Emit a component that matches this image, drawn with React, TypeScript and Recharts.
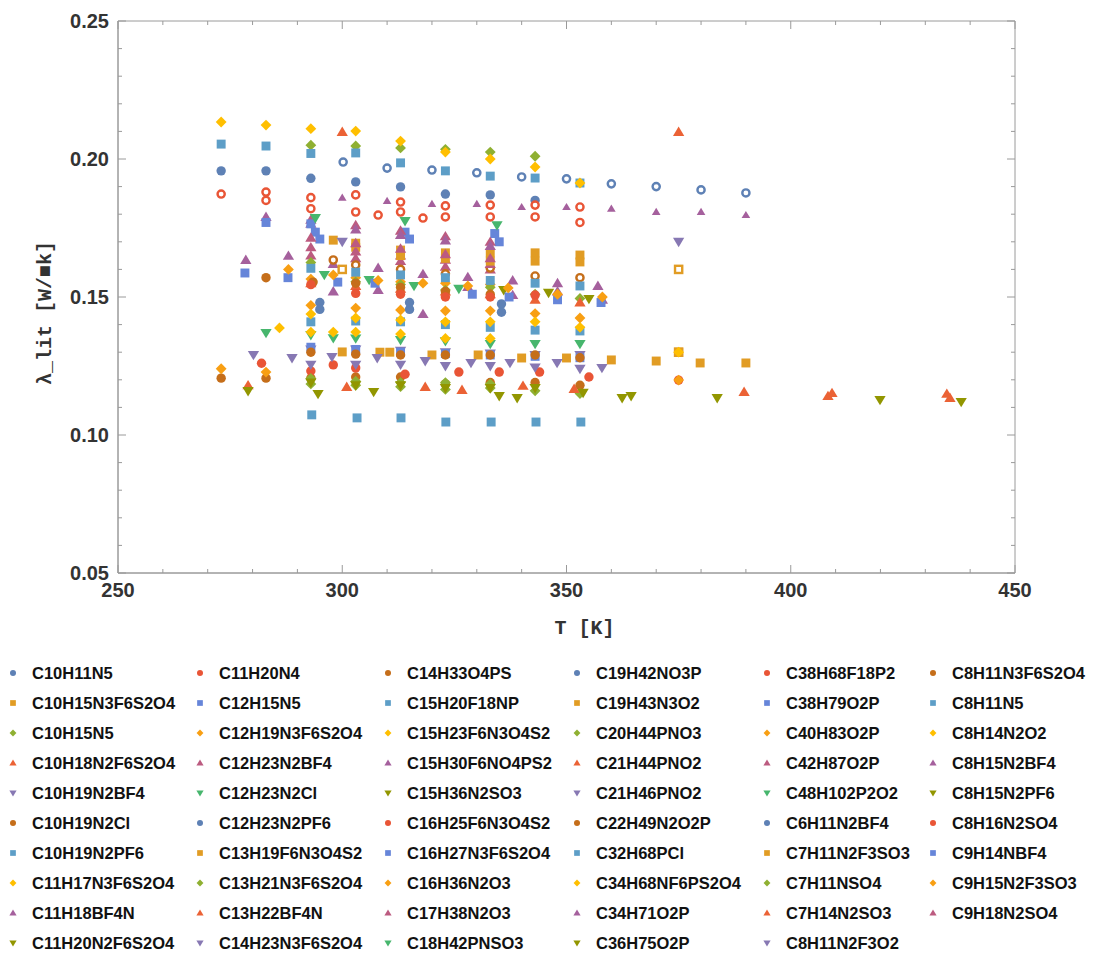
import React from "react";
import { ScatterChart, Scatter, XAxis, YAxis, ReferenceArea } from "recharts";

type P = [number, number];

// [T (K), lambda_lit (W/mK)], one list per compound
const C10H11N5: P[] = [[273, 0.1957], [283, 0.1957], [293, 0.193], [303, 0.1917], [313, 0.1899], [323, 0.1873], [333, 0.187], [343, 0.185]];
const C10H15N3F6S2O4: P[] = [[298, 0.1706], [303, 0.168], [313, 0.167], [323, 0.166], [333, 0.166], [343, 0.166], [353, 0.1652]];
const C10H15N5: P[] = [[293, 0.205], [303, 0.2047], [313, 0.204], [323, 0.2035], [333, 0.2025], [343, 0.201]];
const C10H18N2F6S2O4: P[] = [[300, 0.2098], [375, 0.2098]];
const C10H19N2BF4: P[] = [[300, 0.170], [375, 0.170]];
const C10H19N2Cl: P[] = [[273, 0.1206], [283, 0.1206], [293, 0.1206], [303, 0.121], [313, 0.121], [323, 0.1185], [333, 0.119], [343, 0.119], [353, 0.118]];
const C10H19N2PF6: P[] = [[273, 0.2054], [283, 0.2047], [293, 0.202], [303, 0.2022], [313, 0.1986], [323, 0.1957], [333, 0.1938], [343, 0.1931], [353, 0.1913]];
const C11H17N3F6S2O4: P[] = [[273, 0.2134], [283, 0.2123], [293, 0.211], [303, 0.2101], [313, 0.2065], [323, 0.2025], [333, 0.200], [343, 0.1971], [353, 0.1913]];
const C11H18BF4N: P[] = [[278.5, 0.1634], [288, 0.1649], [298, 0.162], [308, 0.1605], [318, 0.1583], [328, 0.1572], [338, 0.156], [348, 0.155], [357, 0.154]];
const C11H20N2F6S2O4: P[] = [[336, 0.1525], [346, 0.1515], [355, 0.1493]];
const C11H20N4: P[] = [[282, 0.126], [293, 0.1232], [298, 0.1254], [303, 0.1243], [314, 0.122], [326, 0.1228], [335, 0.1228], [344, 0.1228], [355, 0.121], [375, 0.1199]];
const C12H15N5: P[] = [[294, 0.1735], [295, 0.171], [314, 0.1735], [315, 0.171], [334, 0.173], [335, 0.170]];
const C12H19N3F6S2O4: P[] = [[293, 0.147], [303, 0.146], [313, 0.1453], [323, 0.145], [333, 0.145], [343, 0.144], [353, 0.1424]];
const C12H23N2BF4: P[] = [[293, 0.165], [303, 0.164], [313, 0.163], [323, 0.161], [333, 0.160]];
const C12H23N2Cl: P[] = [[283, 0.137], [293, 0.1362], [298, 0.1351], [303, 0.135], [313, 0.1344], [323, 0.134], [333, 0.133], [343, 0.133], [353, 0.133]];
const C12H23N2PF6: P[] = [[295, 0.148], [315, 0.148], [335.5, 0.1475]];
const C13H19F6N3O4S2: P[] = [[300, 0.160], [375, 0.160], [375, 0.130]];
const C13H21N3F6S2O4: P[] = [[293, 0.1185], [303, 0.118], [313, 0.1175], [323, 0.1165], [333, 0.117], [343, 0.116], [353, 0.115]];
const C13H22BF4N: P[] = [[279, 0.118], [301, 0.1174], [318.5, 0.1174], [326.7, 0.1163], [340.3, 0.1178], [351.7, 0.1167]];
const C14H23N3F6S2O4: P[] = [[293, 0.131], [303, 0.131], [313, 0.1305], [323, 0.130], [333, 0.1295], [343, 0.129], [353, 0.129]];
const C14H33O4PS: P[] = [[298, 0.1634], [303, 0.1616], [313, 0.160], [323, 0.1584], [333, 0.1605], [343, 0.1576], [353, 0.157]];
const C15H20F18NP: P[] = [[293, 0.141], [303, 0.1413], [313, 0.141], [323, 0.140], [333, 0.139], [343, 0.138], [353, 0.1377]];
const C15H23F6N3O4S2: P[] = [[286, 0.1388], [293, 0.1373], [298, 0.1373], [303, 0.1373], [313, 0.1366], [323, 0.135], [333, 0.135]];
const C15H30F6NO4PS2: P[] = [[298, 0.152], [308, 0.1525], [318, 0.1438], [328, 0.1536], [338, 0.1507], [348, 0.152], [358, 0.149]];
const C15H36N2SO3: P[] = [[279, 0.1159], [294.6, 0.1149], [307, 0.1156], [335, 0.1141], [339, 0.1134]];
const C16H25F6N3O4S2: P[] = [[273, 0.1873], [283, 0.188], [293, 0.186], [303, 0.187], [313, 0.1844], [323, 0.183], [333, 0.1833], [343, 0.1833], [353, 0.1826]];
const C16H27N3F6S2O4: P[] = [[293, 0.1318], [303, 0.131], [313, 0.130], [323, 0.1295], [333, 0.129], [343, 0.1285], [353, 0.128]];
const C16H36N2O3: P[] = [[293, 0.1565], [303, 0.157], [313, 0.1555], [323, 0.155], [333, 0.1545]];
const C17H38N2O3: P[] = [[293, 0.178], [303, 0.176], [313, 0.174], [323, 0.172], [333, 0.170]];
const C18H42PNSO3: P[] = [[296, 0.158], [306, 0.1562], [316, 0.154], [326, 0.153]];
const C19H42NO3P: P[] = [[295, 0.1455], [315, 0.1455], [335.5, 0.1445]];
const C19H43N3O2: P[] = [[300, 0.1301], [308.4, 0.130], [310.6, 0.130], [320, 0.129], [330.3, 0.129], [340, 0.1279], [350, 0.1279], [360, 0.1272], [370, 0.1268], [375, 0.130], [379.8, 0.1261], [390, 0.1261]];
const C20H44PNO3: P[] = [[293, 0.1625], [303, 0.1555], [313, 0.1545], [323, 0.1525], [333, 0.1535], [343, 0.151], [353, 0.1495]];
const C21H44PNO2: P[] = [[293, 0.155], [303, 0.154], [313, 0.153], [323, 0.152], [333, 0.151], [343, 0.149], [353, 0.148]];
const C21H46PNO2: P[] = [[280.2, 0.129], [288.8, 0.1279], [297.7, 0.1283], [307.8, 0.1279], [318.5, 0.1268], [328.7, 0.1261], [337.4, 0.1261], [347.9, 0.1261], [357.9, 0.1243]];
const C22H49N2O2P: P[] = [[283, 0.157], [293.5, 0.1554], [303, 0.155], [313, 0.1535], [323, 0.152], [333, 0.151]];
const C32H68PCl: P[] = [[293.2, 0.1073], [303.3, 0.1062], [313.1, 0.1062], [323.1, 0.1047], [333.2, 0.1047], [343.2, 0.1047], [353.2, 0.1047]];
const C34H68NF6PS2O4: P[] = [[375, 0.130]];
const C34H71O2P: P[] = [[283, 0.179], [293, 0.1765], [303, 0.1745], [313, 0.1725], [323, 0.1705], [333, 0.1685]];
const C36H75O2P: P[] = [[362.4, 0.1134], [364.4, 0.1141], [383.6, 0.1134], [419.9, 0.1127], [438, 0.112]];
const C38H68F18P2: P[] = [[293, 0.1545], [303, 0.1513], [313, 0.151], [323, 0.150], [333, 0.150], [343, 0.1507]];
const C38H79O2P: P[] = [[283, 0.177], [293, 0.1765]];
const C40H83O2P: P[] = [[273, 0.124], [283, 0.1228], [375, 0.1199]];
const C42H87O2P: P[] = [[293, 0.168], [303, 0.1665], [313, 0.165], [323, 0.1635], [333, 0.162]];
const C48H102P2O2: P[] = [[294, 0.1786], [314, 0.1775], [334.5, 0.176]];
const C6H11N2BF4: P[] = [[300.2, 0.1989], [310, 0.1967], [320, 0.196], [330, 0.195], [340, 0.1935], [350, 0.1928], [360, 0.191], [370, 0.190], [380, 0.1888], [390, 0.1877]];
const C7H11N2F3SO3: P[] = [[303, 0.1695], [313, 0.165], [323, 0.164], [333, 0.163], [343, 0.163], [353, 0.1627]];
const C7H11NSO4: P[] = [[293, 0.1205], [303, 0.1195], [313, 0.119], [323, 0.119], [333, 0.1185]];
const C7H14N2SO3: P[] = [[389.6, 0.1156], [408.3, 0.1141], [409.2, 0.1152], [434.8, 0.1149], [435.5, 0.1134]];
const C8H11N2F3O2: P[] = [[293, 0.1255], [303, 0.1255], [313, 0.1255], [323, 0.125], [333, 0.125], [343, 0.1245], [353, 0.124]];
const C8H11N3F6S2O4: P[] = [[293, 0.130], [303, 0.1293], [313, 0.129], [323, 0.129], [333, 0.129], [343, 0.129], [353, 0.128]];
const C8H11N5: P[] = [[293, 0.1604], [303, 0.159], [313, 0.158], [323, 0.157], [333, 0.156], [343, 0.155], [353, 0.154]];
const C8H14N2O2: P[] = [[293, 0.1438], [303, 0.1424], [313, 0.1417], [323, 0.141], [333, 0.141], [343, 0.141], [353, 0.139]];
const C8H15N2BF4: P[] = [[300, 0.186], [310, 0.1848], [320, 0.1837], [330, 0.1837], [340, 0.1826], [350, 0.1826], [360, 0.182], [370, 0.1808], [380, 0.1808], [390, 0.1797]];
const C8H15N2PF6: P[] = [[293, 0.119], [303, 0.118], [313, 0.118], [323, 0.117], [333, 0.117], [343, 0.117], [353.7, 0.1153]];
const C8H16N2SO4: P[] = [[283, 0.185], [293, 0.182], [303, 0.1808], [308, 0.1797], [313, 0.1808], [318, 0.1786], [323, 0.179], [333, 0.179], [343, 0.179], [353, 0.177]];
const C9H14NBF4: P[] = [[278.3, 0.1587], [287.9, 0.157], [299, 0.1554], [307.3, 0.155], [329, 0.151], [337.2, 0.150], [348, 0.149], [357.7, 0.148]];
const C9H15N2F3SO3: P[] = [[288, 0.160], [298, 0.158], [308, 0.156], [318, 0.155], [328, 0.154], [337, 0.1533], [348, 0.151], [358, 0.150]];
const C9H18N2SO4: P[] = [[293, 0.1715], [303, 0.1695], [313, 0.1675], [323, 0.1655], [333, 0.164]];

const SERIES: [string, P[]][] = [
    ["C10H11N5", C10H11N5], ["C10H15N3F6S2O4", C10H15N3F6S2O4], ["C10H15N5", C10H15N5],
    ["C10H18N2F6S2O4", C10H18N2F6S2O4], ["C10H19N2BF4", C10H19N2BF4], ["C10H19N2Cl", C10H19N2Cl],
    ["C10H19N2PF6", C10H19N2PF6], ["C11H17N3F6S2O4", C11H17N3F6S2O4], ["C11H18BF4N", C11H18BF4N],
    ["C11H20N2F6S2O4", C11H20N2F6S2O4], ["C11H20N4", C11H20N4], ["C12H15N5", C12H15N5],
    ["C12H19N3F6S2O4", C12H19N3F6S2O4], ["C12H23N2BF4", C12H23N2BF4], ["C12H23N2Cl", C12H23N2Cl],
    ["C12H23N2PF6", C12H23N2PF6], ["C13H19F6N3O4S2", C13H19F6N3O4S2], ["C13H21N3F6S2O4", C13H21N3F6S2O4],
    ["C13H22BF4N", C13H22BF4N], ["C14H23N3F6S2O4", C14H23N3F6S2O4], ["C14H33O4PS", C14H33O4PS],
    ["C15H20F18NP", C15H20F18NP], ["C15H23F6N3O4S2", C15H23F6N3O4S2], ["C15H30F6NO4PS2", C15H30F6NO4PS2],
    ["C15H36N2SO3", C15H36N2SO3], ["C16H25F6N3O4S2", C16H25F6N3O4S2], ["C16H27N3F6S2O4", C16H27N3F6S2O4],
    ["C16H36N2O3", C16H36N2O3], ["C17H38N2O3", C17H38N2O3], ["C18H42PNSO3", C18H42PNSO3],
    ["C19H42NO3P", C19H42NO3P], ["C19H43N3O2", C19H43N3O2], ["C20H44PNO3", C20H44PNO3],
    ["C21H44PNO2", C21H44PNO2], ["C21H46PNO2", C21H46PNO2], ["C22H49N2O2P", C22H49N2O2P],
    ["C32H68PCl", C32H68PCl], ["C34H68NF6PS2O4", C34H68NF6PS2O4], ["C34H71O2P", C34H71O2P],
    ["C36H75O2P", C36H75O2P], ["C38H68F18P2", C38H68F18P2], ["C38H79O2P", C38H79O2P],
    ["C40H83O2P", C40H83O2P], ["C42H87O2P", C42H87O2P], ["C48H102P2O2", C48H102P2O2],
    ["C6H11N2BF4", C6H11N2BF4], ["C7H11N2F3SO3", C7H11N2F3SO3], ["C7H11NSO4", C7H11NSO4],
    ["C7H14N2SO3", C7H14N2SO3], ["C8H11N2F3O2", C8H11N2F3O2], ["C8H11N3F6S2O4", C8H11N3F6S2O4],
    ["C8H11N5", C8H11N5], ["C8H14N2O2", C8H14N2O2], ["C8H15N2BF4", C8H15N2BF4],
    ["C8H15N2PF6", C8H15N2PF6], ["C8H16N2SO4", C8H16N2SO4], ["C9H14NBF4", C9H14NBF4],
    ["C9H15N2F3SO3", C9H15N2F3SO3], ["C9H18N2SO4", C9H18N2SO4],
];

const X_TICKS = [250, 260, 270, 280, 290, 300, 310, 320, 330, 340, 350, 360, 370, 380, 390, 400, 410, 420, 430, 440, 450];
const Y_TICKS = [0.05, 0.06, 0.07, 0.08, 0.09, 0.1, 0.11, 0.12, 0.13, 0.14, 0.15, 0.16, 0.17, 0.18, 0.19, 0.2, 0.21, 0.22, 0.23, 0.24, 0.25];

// mathematica's default palette (cycle of 15) and marker cycle (5)
const COLORS = ["#5E81B5", "#E19C24", "#8FB032", "#EB6235", "#8778B3", "#C56E1A", "#5D9EC7", "#FFBF00",
    "#A5609D", "#929600", "#E95536", "#6685D9", "#F89F13", "#BC5B80", "#47B66D"];
const SHAPES = ["circle", "square", "diamond", "up", "down"];
const OPEN = ["C13H19F6N3O4S2", "C14H33O4PS", "C16H25F6N3O4S2", "C6H11N2BF4", "C8H16N2SO4"];
const SMALL = ["C8H15N2BF4"];

// chart box
const W = 1093;
const H = 650;
const M = { top: 21, right: 78, left: 0, bottom: 0 };
const Y_W = 118;
const X_H = 77;
const PLOT_W = W - M.left - M.right - Y_W;
const PLOT_H = H - M.top - M.bottom - X_H;

const FRAME = "#9a9a9a";
const tickFont = { fontFamily: "'Liberation Sans', Arial, sans-serif", fontWeight: 700, fontSize: 20, fill: "#333" };
const monoFont = { fontFamily: "'Liberation Mono', 'DejaVu Sans Mono', monospace", fontWeight: 700, fontSize: 20, fill: "#333" };

const Marker = ({ cx, cy, shape, color, r, open }: any) => {
    if (cx == null || cy == null) return null;
    const fill = open ? "#fff" : color;
    const stroke = open ? color : "none";
    const sw = open ? 2.4 : 0;
    if (shape === "circle") {
        return <circle cx={cx} cy={cy} r={open ? r - 1.1 : r} fill={fill} stroke={stroke} strokeWidth={sw} />;
    }
    if (shape === "square") {
        const h = open ? r - 1.1 : r * 0.95;
        return <rect x={cx - h} y={cy - h} width={h * 2} height={h * 2} fill={fill} stroke={stroke} strokeWidth={sw} />;
    }
    if (shape === "diamond") {
        const d = open ? r * 1.1 - 1.1 : r * 1.15;
        return <polygon points={`${cx},${cy - d} ${cx + d},${cy} ${cx},${cy + d} ${cx - d},${cy}`} fill={fill} stroke={stroke} strokeWidth={sw} />;
    }
    const s = shape === "up" ? 1 : -1;
    const pts = `${cx},${cy - s * r * 1.15} ${cx + r * 1.2},${cy + s * r * 0.85} ${cx - r * 1.2},${cy + s * r * 0.85}`;
    return <polygon points={pts} fill={fill} stroke={stroke} strokeWidth={sw} />;
};

// bottom ticks point inward; the same tick is mirrored on the top edge of the frame
const XTick = ({ x, y, payload }: any) => {
    const major = payload.value % 50 === 0;
    const len = major ? 8 : 4;
    const top = y - PLOT_H;
    return (
        <g>
            <line x1={x} x2={x} y1={y} y2={y - len} stroke={FRAME} />
            <line x1={x} x2={x} y1={top} y2={top + len} stroke={FRAME} />
            {major && (
                <text x={x} y={y + 24} textAnchor="middle" {...tickFont}>{payload.value}</text>
            )}
        </g>
    );
};

const YTick = ({ x, y, payload }: any) => {
    const major = Math.round(payload.value * 100) % 5 === 0;
    const len = major ? 8 : 4;
    const right = x + PLOT_W;
    return (
        <g>
            <line x1={x} x2={x + len} y1={y} y2={y} stroke={FRAME} />
            <line x1={right} x2={right - len} y1={y} y2={y} stroke={FRAME} />
            {major && (
                <text x={x - 9} y={y + 7} textAnchor="end" {...tickFont}>{payload.value.toFixed(2)}</text>
            )}
        </g>
    );
};

const LEGEND_COLS = [13, 200, 388, 577, 767, 933];

const LegendIcon = ({ i }: { i: number }) => (
    <svg width={12} height={12} style={{ position: "absolute", left: -6, top: -6 }}>
        <Marker cx={6} cy={6} shape={SHAPES[i % 5]} color={COLORS[i % 15]} r={3} open={false} />
    </svg>
);

const App = () => {
    return (
        <div style={{ position: "absolute", left: 0, top: 0, width: 1093, height: 954, background: "#fff" }}>
            <ScatterChart width={W} height={H} margin={M}>
                <XAxis
                    type="number"
                    dataKey="x"
                    domain={[250, 450]}
                    ticks={X_TICKS}
                    interval={0}
                    height={X_H}
                    tickSize={0}
                    tickMargin={0}
                    stroke={FRAME}
                    tick={<XTick />}
                    allowDataOverflow
                    label={{
                        content: ({ viewBox }: any) => (
                            <text x={viewBox.x + viewBox.width / 2 + 18} y={viewBox.y + 61} textAnchor="middle" {...monoFont}>T [K]</text>
                        ),
                    }}
                />
                <YAxis
                    type="number"
                    dataKey="y"
                    domain={[0.05, 0.25]}
                    ticks={Y_TICKS}
                    interval={0}
                    width={Y_W}
                    tickSize={0}
                    tickMargin={0}
                    stroke={FRAME}
                    tick={<YTick />}
                    allowDataOverflow
                    label={{
                        content: ({ viewBox }: any) => {
                            const cx = 45;
                            const cy = viewBox.y + viewBox.height / 2 + 16;
                            return (
                                <text x={cx} y={cy} transform={`rotate(-90 ${cx} ${cy})`} textAnchor="middle" dominantBaseline="central" {...monoFont}>
                                    λ_lit [W/■k]
                                </text>
                            );
                        },
                    }}
                />
                <ReferenceArea x1={250} x2={450} y1={0.05} y2={0.25} fill="none" stroke={FRAME} strokeWidth={1} ifOverflow="visible" />
                {SERIES.map(([name, pts], i) => {
                    const shape = SHAPES[i % 5];
                    const color = COLORS[i % 15];
                    const open = OPEN.includes(name);
                    const r = SMALL.includes(name) ? 3.6 : 4.7;
                    return (
                        <Scatter
                            key={name}
                            name={name}
                            data={pts.map(([x, y]) => ({ x, y }))}
                            fill={color}
                            isAnimationActive={false}
                            shape={(p: any) => <Marker cx={p.cx} cy={p.cy} shape={shape} color={color} r={r} open={open} />}
                        />
                    );
                })}
            </ScatterChart>
            {SERIES.map(([name], i) => {
                const col = Math.floor(i / 10);
                const row = i % 10;
                return (
                    <div key={name} style={{ position: "absolute", left: LEGEND_COLS[col], top: 673 + row * 30, height: 0 }}>
                        <LegendIcon i={i} />
                        <span
                            style={{
                                position: "absolute",
                                left: 19,
                                top: -11,
                                whiteSpace: "nowrap",
                                fontFamily: "'Liberation Sans', Arial, sans-serif",
                                fontWeight: 700,
                                fontSize: 16.5,
                                lineHeight: "22px",
                                color: "#111",
                            }}
                        >
                            {name}
                        </span>
                    </div>
                );
            })}
        </div>
    );
};

export default App;
